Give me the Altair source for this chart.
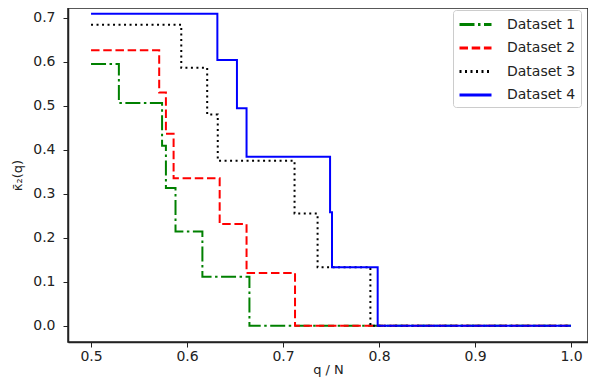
import altair as alt
import pandas as pd

series = ["Dataset 1", "Dataset 2", "Dataset 3", "Dataset 4"]
colors = ["#008000", "#ff0000", "#000000", "#0000ff"]
dashes = [[15, 3.5, 2.5, 3.5], [8.5, 3.7], [2, 3.5], [1, 0]]

x1 = [0.5, 0.529, 0.574, 0.578, 0.588, 0.616, 0.665, 1.0]
y1 = [0.595, 0.506, 0.409, 0.313, 0.214, 0.111, 0.0, 0.0]
x2 = [0.5, 0.571, 0.578, 0.586, 0.634, 0.662, 0.7125, 1.0]
y2 = [0.626, 0.53, 0.436, 0.335, 0.231, 0.12, 0.0, 0.0]
x3 = [0.5, 0.594, 0.621, 0.632, 0.712, 0.736, 0.791, 1.0]
y3 = [0.684, 0.586, 0.48, 0.375, 0.255, 0.133, 0.0, 0.0]
x4 = [0.5, 0.6316, 0.652, 0.662, 0.749, 0.751, 0.7986, 1.0]
y4 = [0.709, 0.604, 0.494, 0.384, 0.258, 0.133, 0.0, 0.0]

xticks = [0.5, 0.6, 0.7, 0.8, 0.9, 1.0]
yticks = [0.0, 0.1, 0.2, 0.3, 0.4, 0.5, 0.6, 0.7]

rows = []
for name, xs, ys in zip(series, [x1, x2, x3, x4], [y1, y2, y3, y4]):
    for i, (a, b) in enumerate(zip(xs, ys)):
        rows.append({"series": name, "q": a, "k": b, "i": i})
df = pd.DataFrame(rows)

FONT = "DejaVu Sans"

chart = alt.Chart(df).mark_line(interpolate="step-after", strokeWidth=2).encode(
    x=alt.X("q:Q", scale=alt.Scale(domain=[0.476, 1.0177], nice=False, zero=False),
            axis=alt.Axis(values=xticks, format=".1f", title="q / N",
                          labelPadding=2, titlePadding=0, titleFontSize=13)),
    y=alt.Y("k:Q", scale=alt.Scale(domain=[-0.037, 0.722], nice=False, zero=False),
            axis=alt.Axis(values=yticks, format=".1f", title="κ̄₂(q)",
                          labelPadding=8, titlePadding=8, titleFontSize=13)),
    color=alt.Color("series:N", scale=alt.Scale(domain=series, range=colors),
                    legend=alt.Legend(title=None)),
    strokeDash=alt.StrokeDash("series:N", scale=alt.Scale(domain=series, range=dashes),
                              legend=alt.Legend(title=None)),
    order="i:Q",
).properties(
    width=520, height=334,
    autosize=alt.AutoSizeParams(type="none"),
    padding={"left": 60, "top": 0, "right": 0, "bottom": 36},
).configure_view(
    stroke="#222222", strokeWidth=1.5
).configure_axis(
    labelFont=FONT, titleFont=FONT, labelFontSize=14,
    labelColor="#222222", titleColor="#222222", titleFontWeight="normal",
    domainColor="#222222", domainWidth=1.5, tickColor="#222222", tickSize=5,
    tickWidth=1, grid=False,
).configure_legend(
    orient="none", legendX=385, legendY=2, labelFont=FONT, labelFontSize=14,
    labelColor="#222222", symbolType="M-2,0L2,0", symbolSize=256, symbolStrokeWidth=3,
    strokeColor="#cccccc", padding=5, cornerRadius=3, fillColor="white",
    rowPadding=6.5, labelOffset=22, symbolOffset=8,
)

chart.save("out.html", embed_options={"renderer": "svg", "actions": False})
